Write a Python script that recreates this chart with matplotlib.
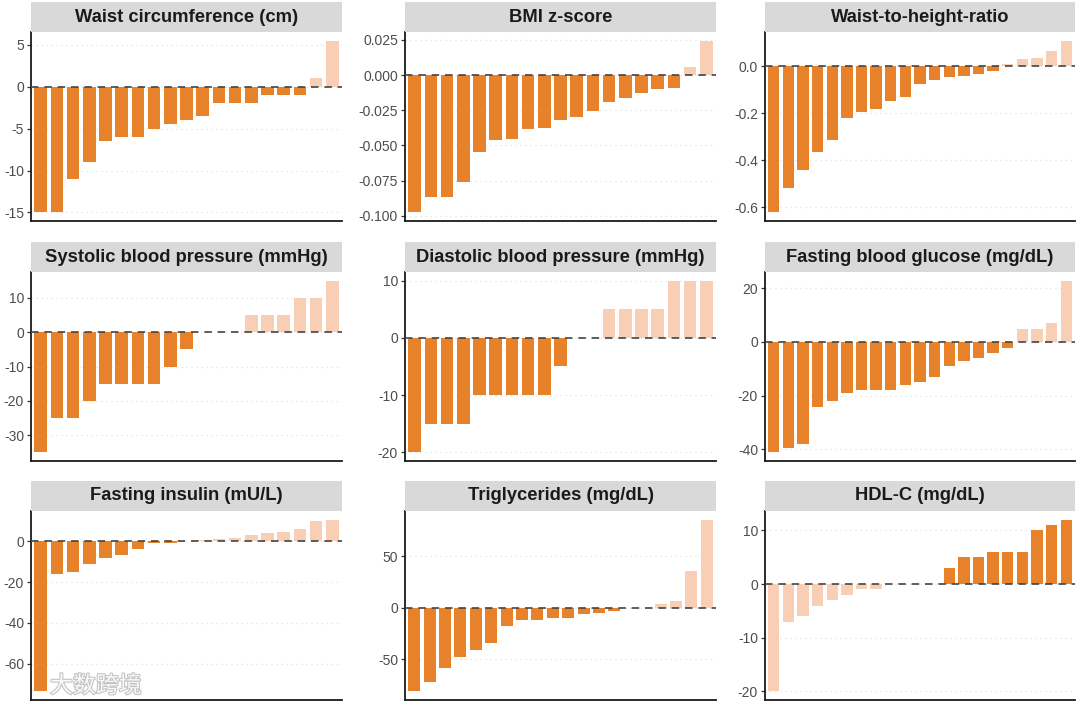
import matplotlib
matplotlib.use("Agg")
import matplotlib.pyplot as plt
from matplotlib.ticker import MultipleLocator, FormatStrFormatter
import matplotlib.patheffects as pe

plt.rcParams['font.family'] = ['Liberation Sans', 'DejaVu Sans']
plt.rcParams['axes.unicode_minus'] = False

titles = ["Waist circumference (cm)", "BMI z-score", "Waist-to-height-ratio",
          "Systolic blood pressure (mmHg)", "Diastolic blood pressure (mmHg)",
          "Fasting blood glucose (mg/dL)",
          "Fasting insulin (mU/L)", "Triglycerides (mg/dL)", "HDL-C (mg/dL)"]

waist = [-15, -15, -11, -9, -6.5, -6, -6, -5, -4.5, -4, -3.5, -2, -2, -2, -1, -1, -1, 1, 5.5]
bmiz = [-0.0976, -0.087, -0.087, -0.0762, -0.0548, -0.0464, -0.0452, -0.038, -0.0374,
        -0.0317, -0.0298, -0.0257, -0.0188, -0.016, -0.0126, -0.010, -0.009, 0.006, 0.0245]
whtr = [-0.623, -0.52, -0.441, -0.366, -0.313, -0.221, -0.193, -0.18, -0.147, -0.129,
        -0.074, -0.059, -0.046, -0.039, -0.033, -0.02, 0.011, 0.033, 0.037, 0.067, 0.11]
sbp = [-35, -25, -25, -20, -15, -15, -15, -15, -10, -5, 0, 0, 0, 5, 5, 5, 10, 10, 15]
dbp = [-20, -15, -15, -15, -10, -10, -10, -10, -10, -5, 0, 0, 5, 5, 5, 5, 10, 10, 10]
fbg = [-41.2, -39.4, -38.2, -24.2, -22.2, -19.1, -18.1, -18, -18, -16.2, -15.1, -13.2,
       -9.1, -7.1, -6.1, -4, -2.1, 4.8, 4.8, 6.9, 22.9]
insulin = [-73.6, -16.2, -14.8, -11.3, -8.2, -6.9, -3.6, -0.8, -0.6, 0.2, 0.5, 1.0, 1.6,
           3.3, 4.3, 4.8, 5.9, 9.8, 10.7]
tg = [-81.5, -72.4, -58.4, -48.4, -41.6, -34.7, -17.9, -11.7, -11.7, -9.7, -9.7, -6.5,
      -4.9, -2.9, 0, 0, 3.2, 6.2, 36, 85.7]
hdl = [-20, -7, -6, -4, -3, -2, -1, -1, 0, 0, 0, 0, 3, 5, 5, 6, 6, 6, 10, 11, 12]

series = [waist, bmiz, whtr, sbp, dbp, fbg, insulin, tg, hdl]
# +1: higher is better, -1: lower is better
better = [-1, -1, -1, -1, -1, -1, -1, -1, 1]
tick_steps = [5, 0.025, 0.2, 10, 10, 20, 20, 50, 10]
tick_fmts = ["%d", "%.3f", "%.1f", "%d", "%d", "%d", "%d", "%d", "%d"]

DARK = "#E8822A"
LIGHT = "#F8CEB4"

W, H = 1080, 706
fig = plt.figure(figsize=(W / 100, H / 100), dpi=100)

col_l = [31, 405, 765]
col_r = [342, 716, 1075]
row_t = [32, 272, 511]
row_b = [221, 461, 700]
strip_h = 30

for i, (vals, title) in enumerate(zip(series, titles)):
    r, c = divmod(i, 3)
    l, rr, t, b = col_l[c], col_r[c], row_t[r], row_b[r]
    ax = fig.add_axes([l / W, (H - b) / H, (rr - l) / W, (b - t) / H])
    n = len(vals)
    x = list(range(n))
    colors = [DARK if v * better[i] > 0 else LIGHT for v in vals]
    ax.bar(x, vals, width=0.78, color=colors, zorder=2)
    ax.axhline(0, color="#444444", linestyle=(0, (4.5, 3.5)), linewidth=1.2, zorder=3)
    ax.set_xlim(-0.6, n - 0.4)
    lo, hi = min(min(vals), 0), max(max(vals), 0)
    pad = 0.05 * (hi - lo)
    ax.set_ylim(lo - pad, hi + pad)
    ax.yaxis.set_major_locator(MultipleLocator(tick_steps[i]))
    ax.yaxis.set_major_formatter(FormatStrFormatter(tick_fmts[i]))
    ax.set_xticks([])
    ax.grid(axis="y", color="#E2E2E2", linestyle=(0, (1, 3)), linewidth=0.9, zorder=0)
    ax.set_axisbelow(True)
    for s in ["top", "right"]:
        ax.spines[s].set_visible(False)
    for s in ["left", "bottom"]:
        ax.spines[s].set_color("#1A1A1A")
        ax.spines[s].set_linewidth(1.3)
    ax.tick_params(axis="y", length=3, width=0.9, color="#333333",
                   labelsize=10, labelcolor="#4D4D4D", pad=2)

    sax = fig.add_axes([l / W, (H - t) / H, (rr - l) / W, strip_h / H])
    sax.set_facecolor("#D9D9D9")
    sax.set_xticks([]); sax.set_yticks([])
    for s in sax.spines.values():
        s.set_visible(False)
    sax.text(0.5, 0.5, title, ha="center", va="center", fontsize=13.2,
             fontweight="bold", color="#1A1A1A", transform=sax.transAxes)

fig.text(50 / W, 1 - 686 / H, "大数跨境", family=["Noto Sans CJK SC", "DejaVu Sans"],
         fontsize=16.5, color="white", alpha=0.9, va="center",
         path_effects=[pe.withStroke(linewidth=1.5, foreground="#BBBBBB")])

fig.savefig("out.png", dpi=100)
